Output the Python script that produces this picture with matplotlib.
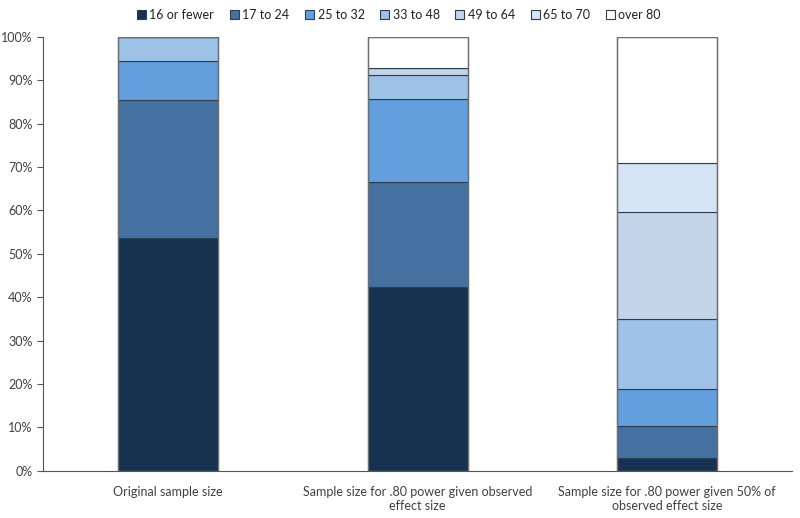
import matplotlib.pyplot as plt
import numpy as np
from matplotlib.ticker import PercentFormatter

plt.rcParams['font.family'] = ['Lato', 'DejaVu Sans']

# categories on x axis
categories = ['Original sample size',
              'Sample size for .80 power given observed\neffect size',
              'Sample size for .80 power given 50% of\nobserved effect size']

# size groups (legend)
groups = ['16 or fewer', '17 to 24', '25 to 32', '33 to 48',
          '49 to 64', '65 to 70', 'over 80']

# percentages per group, one value per category
fewer16 = [53.7, 42.4, 2.9]
to24 = [31.8, 24.2, 7.5]
to32 = [9.0, 19.1, 8.5]
to48 = [5.5, 5.5, 16.1]
to64 = [0.0, 1.6, 24.7]
to70 = [0.0, 0.0, 11.2]
over80 = [0.0, 7.2, 29.1]

series = [fewer16, to24, to32, to48, to64, to70, over80]
colors = ['#17324f', '#4571a0', '#629fdc', '#9fc2e7',
          '#c4d5ea', '#d5e4f5', '#ffffff']

fig = plt.figure(figsize=(8, 5.18), dpi=100)
ax = fig.add_axes([0.054, 0.091, 0.936, 0.838])

x = np.arange(len(categories))
bottom = np.zeros(len(categories))
for name, vals, col in zip(groups, series, colors):
    ax.bar(x, vals, bottom=bottom, width=0.4, color=col,
           edgecolor='#2f3d50', linewidth=0.8, label=name)
    bottom += np.array(vals)

# gray outline around each full bar
ax.bar(x, [100] * 3, width=0.4, fill=False, edgecolor='#6e6e6e', linewidth=1.0)

ax.set_xlim(-0.5, 2.5)
ax.set_ylim(0, 100)
ax.set_yticks(range(0, 101, 10))
ax.yaxis.set_major_formatter(PercentFormatter(decimals=0))
ax.set_xticks(x)
ax.set_xticklabels(categories, fontsize=9, color='#404040')
ax.tick_params(axis='y', labelsize=9, labelcolor='#404040', length=4,
               direction='out', color='#555555')
ax.tick_params(axis='x', length=0, pad=11)
for s in ['top', 'right']:
    ax.spines[s].set_visible(False)
ax.spines['left'].set_color('#555555')
ax.spines['bottom'].set_color('#555555')

leg = ax.legend(loc='upper center', bbox_to_anchor=(0.475, 1.09), ncol=7,
                frameon=False, fontsize=9, handlelength=0.7,
                handleheight=0.7, handletextpad=0.3, columnspacing=1.25)
for t in leg.get_texts():
    t.set_color('#222222')

fig.savefig('out.png', dpi=100)
